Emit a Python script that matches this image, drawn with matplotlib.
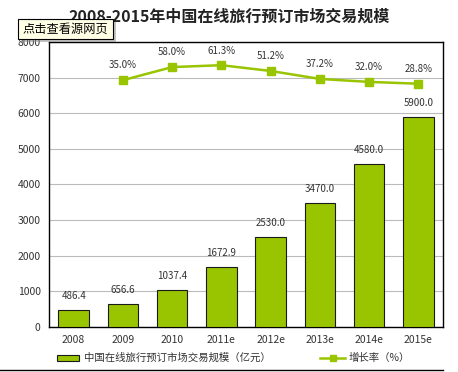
import matplotlib
matplotlib.use("Agg")
import matplotlib.pyplot as plt
from matplotlib.patches import Rectangle
from matplotlib.lines import Line2D

plt.rcParams['font.family'] = ['Noto Sans CJK SC', 'DejaVu Sans']

years = ["2008", "2009", "2010", "2011e", "2012e", "2013e", "2014e", "2015e"]
volume = [486.4, 656.6, 1037.4, 1672.9, 2530.0, 3470.0, 4580.0, 5900.0]
growth = [None, 35.0, 58.0, 61.3, 51.2, 37.2, 32.0, 28.8]

green = "#99c400"

fig = plt.figure(figsize=(4.58, 3.72), dpi=100)
ax = fig.add_axes([49 / 458, 45 / 372, 394 / 458, 285 / 372])

x = list(range(len(years)))
ax.bar(x, volume, width=0.62, color=green, edgecolor="#1a1a1a", linewidth=0.8, zorder=3)
for xi, v in zip(x, volume):
    ax.text(xi, v + 250, "%.1f" % v, ha="center", va="bottom", fontsize=7, color="#333333")

ax.set_ylim(0, 8000)
ax.set_xlim(-0.5, len(years) - 0.5)
ax.set_yticks(range(0, 8001, 1000))
ax.yaxis.grid(True, color="#bbbbbb", linewidth=0.8, zorder=0)
ax.set_axisbelow(True)
ax.tick_params(axis="both", length=0, labelsize=7.5, colors="#333333", pad=6)
ax.set_xticks(x)
ax.set_xticklabels(years)
for s in ax.spines.values():
    s.set_color("black")
    s.set_linewidth(1.0)

ax2 = ax.twinx()
gx = [xi for xi, g in zip(x, growth) if g is not None]
gy = [g for g in growth if g is not None]
ax2.plot(gx, gy, color=green, linewidth=1.8, marker="s", markersize=6, zorder=4)
for xi, g in zip(gx, gy):
    ax2.text(xi, g + 17, "%.1f%%" % g, ha="center", va="bottom", fontsize=7, color="#333333")
ax2.set_ylim(-398, 102)
ax2.set_yticks([])
for s in ax2.spines.values():
    s.set_visible(False)

fig.text(0.5, 0.955, "2008-2015年中国在线旅行预订市场交易规模", ha="center", va="center",
         fontsize=11.5, fontweight="bold", color="#222222")

# tooltip box
fig.patches.append(Rectangle((21 / 458, 1 - 42 / 372), 95 / 458, 20 / 372, transform=fig.transFigure,
                             facecolor="#888888", edgecolor="none", alpha=0.5, zorder=5))
fig.patches.append(Rectangle((18 / 458, 1 - 39 / 372), 95 / 458, 20 / 372, transform=fig.transFigure,
                             facecolor="#ffffe6", edgecolor="black", linewidth=0.8, zorder=6))
fig.text(65.5 / 458, 1 - 29 / 372, "点击查看源网页", ha="center", va="center", fontsize=8.8,
         color="black", zorder=7)

# legend
fig.patches.append(Rectangle((57 / 458, 1 - 361 / 372), 22 / 458, 6 / 372, transform=fig.transFigure,
                             facecolor=green, edgecolor="#1a1a1a", linewidth=0.8))
fig.text(84 / 458, 1 - 358 / 372, "中国在线旅行预订市场交易规模（亿元）", ha="left", va="center",
         fontsize=7.5, color="#333333")
fig.lines.append(Line2D([320 / 458, 345 / 458], [1 - 358 / 372] * 2, transform=fig.transFigure,
                        color=green, linewidth=1.8))
fig.lines.append(Line2D([332.5 / 458], [1 - 358 / 372], transform=fig.transFigure,
                        color=green, marker="s", markersize=4, linestyle="none"))
fig.text(349 / 458, 1 - 358 / 372, "增长率（%）", ha="left", va="center", fontsize=7.5, color="#333333")
fig.lines.append(Line2D([0, 443 / 458], [1 - 370 / 372] * 2, transform=fig.transFigure,
                        color="black", linewidth=1.0))

fig.savefig("out.png", dpi=100)
